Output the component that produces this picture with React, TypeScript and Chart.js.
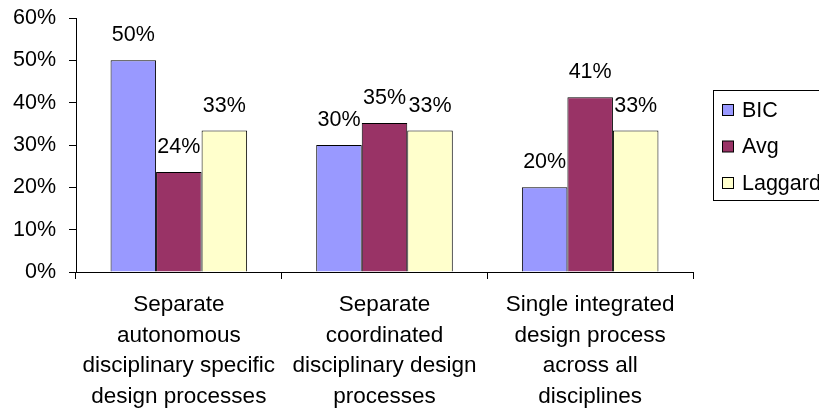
import React, { useEffect, useRef } from "react";
import { Chart, registerables } from "chart.js";

Chart.register(...registerables);

const categories: string[][] = [
  ["Separate", "autonomous", "disciplinary specific", "design processes"],
  ["Separate", "coordinated", "disciplinary design", "processes"],
  ["Single integrated", "design process", "across all", "disciplines"],
];
const seriesNames = ["BIC", "Avg", "Laggard"];
const bicValues = [50, 30, 20];
const avgValues = [23.6, 35.2, 41.3];
const laggardValues = [33.4, 33.4, 33.4];
const yTicks = [0, 10, 20, 30, 40, 50, 60];

const colors = ["#9999FF", "#993366", "#FFFFCC"];
const FONT = "'Liberation Sans', Arial, sans-serif";
const FS = 21.5;
const CAT_FS = 22.5;

const dataLabelPlugin = {
  id: "dataLabels",
  afterDatasetsDraw(chart: any) {
    const ctx = chart.ctx;
    ctx.save();
    ctx.font = `${FS}px ${FONT}`;
    ctx.fillStyle = "#000";
    ctx.textAlign = "center";
    ctx.textBaseline = "middle";
    chart.data.datasets.forEach((ds: any, di: number) => {
      const meta = chart.getDatasetMeta(di);
      meta.data.forEach((bar: any, i: number) => {
        const v = ds.data[i];
        ctx.fillText(Math.round(v) + "%", bar.x, bar.y - 25);
      });
    });
    ctx.restore();
  },
};

const legendPlugin = {
  id: "boxLegend",
  afterDraw(chart: any) {
    const ctx = chart.ctx;
    ctx.save();
    ctx.strokeStyle = "#000";
    ctx.lineWidth = 1;
    ctx.strokeRect(713.5, 90.5, 200, 110);
    ctx.font = `${FS}px ${FONT}`;
    ctx.textAlign = "left";
    ctx.textBaseline = "middle";
    chart.data.datasets.forEach((ds: any, i: number) => {
      const cy = 110 + i * 36.5;
      ctx.fillStyle = ds.backgroundColor;
      ctx.fillRect(722.5, cy - 5.5, 11, 11);
      ctx.strokeStyle = "#000";
      ctx.strokeRect(722.5, cy - 5.5, 11, 11);
      ctx.fillStyle = "#000";
      ctx.fillText(ds.label, 742, cy + 1);
    });
    ctx.restore();
  },
};

export default function App() {
  const ref = useRef<HTMLCanvasElement>(null);
  useEffect(() => {
    if (!ref.current) return;
    const values = [bicValues, avgValues, laggardValues];
    const chart = new Chart(ref.current, {
      type: "bar",
      data: {
        labels: categories,
        datasets: seriesNames.map((name, i) => ({
          label: name,
          data: values[i],
          backgroundColor: colors[i],
          borderColor: "#000",
          borderWidth: 1,
          categoryPercentage: 0.664,
          barPercentage: 1,
        })),
      },
      options: {
        animation: false,
        responsive: false,
        maintainAspectRatio: false,
        layout: { padding: { top: 18, right: 126, left: 0, bottom: 0 } },
        plugins: { legend: { display: false }, tooltip: { enabled: false } },
        scales: {
          x: {
            grid: {
              display: true,
              drawOnChartArea: false,
              drawTicks: true,
              tickLength: 7,
              color: "#000",
              offset: true,
            },
            border: { display: true, color: "#000", width: 1 },
            ticks: {
              color: "#000",
              font: { family: FONT, size: CAT_FS, lineHeight: "30.5px" } as any,
              padding: 11,
              maxRotation: 0,
              autoSkip: false,
            },
            afterFit: (s: any) => {
              s.height = 136;
              s.paddingLeft = 0;
              s.paddingRight = 0;
            },
          },
          y: {
            min: 0,
            max: 60,
            afterBuildTicks: (s: any) => {
              s.ticks = yTicks.map((v) => ({ value: v }));
            },
            grid: {
              display: true,
              drawOnChartArea: false,
              drawTicks: true,
              tickLength: 7,
              color: "#000",
            },
            border: { display: true, color: "#000", width: 1 },
            ticks: {
              color: "#000",
              font: { family: FONT, size: FS },
              padding: 13,
              callback: (v: any) => v + "%",
            },
            afterFit: (s: any) => {
              s.width = 76;
              s.paddingTop = 0;
              s.paddingBottom = 0;
            },
          },
        },
      },
      plugins: [dataLabelPlugin, legendPlugin],
    });
    return () => chart.destroy();
  }, []);
  return (
    <div style={{ position: "fixed", left: 0, top: 0, width: 819, height: 408, background: "#fff" }}>
      <canvas ref={ref} width={819} height={408} style={{ width: 819, height: 408 }} />
    </div>
  );
}
